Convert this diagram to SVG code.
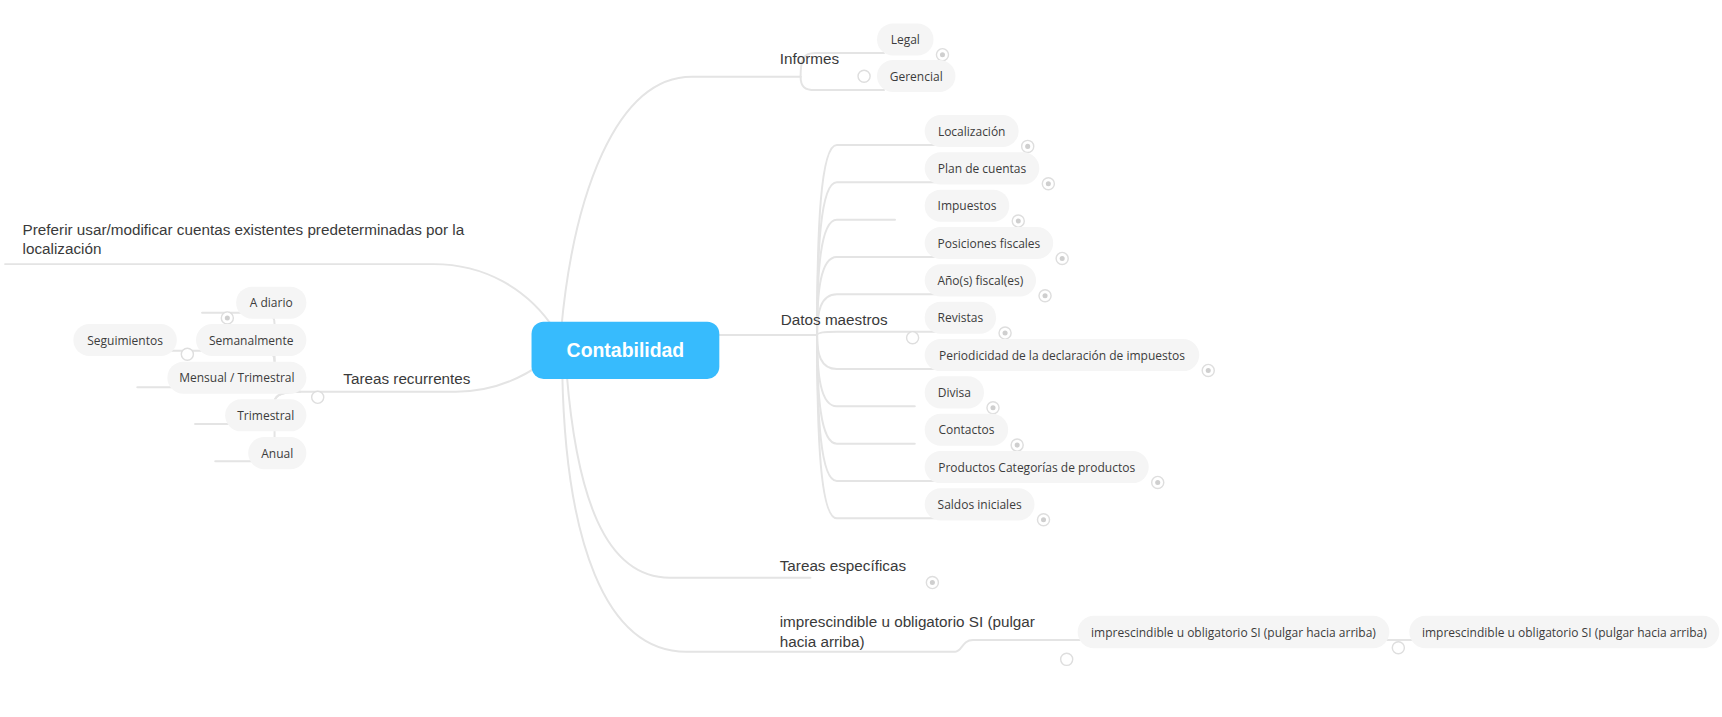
<svg xmlns="http://www.w3.org/2000/svg" width="1722" height="717" viewBox="0 0 1722 717">
<style>
.c{fill:none;stroke:#e4e4e4;stroke-width:1.8;stroke-linecap:round}
.p{fill:#f5f5f5}
.nt{font-family:"Open Sans","Noto Sans",sans-serif;font-size:10.93px;fill:#3c3c3c;text-anchor:middle}
.lb{font-family:"Liberation Sans",Arial,sans-serif;font-size:13.9px;fill:#3a3a3a}
.tg{fill:#fff;stroke:#dedede;stroke-width:1.3}
.td{fill:#cfcfcf}
</style>
<defs>
<g id="dot"><circle class="tg" r="5.5"/><circle class="td" r="2.3"/></g>
</defs>
<rect width="1722" height="717" fill="#fff"/>
<g transform="scale(1.0982)">
<g id="connectors">
<path class="c" d="M511 300 C522 180 560 69.8 630 69.8 H729"/>
<path class="c" d="M729 69.8 C729 55 731 48.3 742 48.3 H805"/>
<path class="c" d="M729 69.8 C729 79 733 82 742 82 H805"/>
<path class="c" d="M600 305 H744"/>
<path class="c" d="M744 305 C744 209.9 747 132 762 132 H852"/>
<path class="c" d="M744 305 C744 228.6 747 166 762 166 H852"/>
<path class="c" d="M744 305 C744 247.3 747 200 762 200 H815"/>
<path class="c" d="M744 305 C744 266 747 234 762 234 H852"/>
<path class="c" d="M744 305 C744 284.6 747 268 762 268 H852"/>
<path class="c" d="M744 305 C744 303.4 747 302 762 302 H852"/>
<path class="c" d="M744 305 C744 322 747 336 762 336 H852"/>
<path class="c" d="M744 305 C744 340.8 747 370 762 370 H833"/>
<path class="c" d="M744 305 C744 359.5 747 404 762 404 H833"/>
<path class="c" d="M744 305 C744 378.2 747 438 762 438 H852"/>
<path class="c" d="M744 305 C744 396.9 747 472 762 472 H852"/>
<path class="c" d="M516 340 C525 450 550 526 610 526 H738"/>
<path class="c" d="M512 340 C515 490 550 593.4 625 593.4 H870 C876 593.4 876 582.8 886 582.8 H990"/>
<path class="c" d="M1260 582.8 H1290"/>
<path class="c" d="M505 300 C480 262 440 240.5 395 240.5 H4.6"/>
<path class="c" d="M495 330 C470 348 445 356.7 415 356.7 H273"/>
<path class="c" d="M273 356.7 Q250 356.7 250 346 V295 Q250 284.7 240 284.7 H184"/>
<path class="c" d="M273 356.7 Q250 356.7 250 346 V329 Q250 319.3 240 319.3 H150"/>
<path class="c" d="M273 356.7 Q250 356.7 250 354.7 Q250 352.7 240 352.7 H125"/>
<path class="c" d="M273 356.7 Q250 356.7 250 366 V376 Q250 386.1 240 386.1 H177.6"/>
<path class="c" d="M273 356.7 Q250 356.7 250 366 V410 Q250 420 240 420 H196"/>
</g>

<g id="n-contabilidad">
<rect x="484" y="293" width="171" height="52" rx="11" fill="#37bbfd"/>
<text x="569.5" y="325.3" text-anchor="middle" font-family="Liberation Sans, Arial, sans-serif" font-size="17.7" font-weight="bold" fill="#fff">Contabilidad</text>
</g>

<g id="n-informes"><text class="lb" x="710" y="58.3">Informes</text><circle class="tg" cx="786.8" cy="69.4" r="5.5"/></g>
<g id="n-legal"><rect class="p" x="798.6" y="21.3" width="51.4" height="29.2" rx="14.6"/><text class="nt" x="824.3" y="40.1">Legal</text><use href="#dot" x="858.2" y="49.8"/></g>
<g id="n-gerencial"><rect class="p" x="798.6" y="54.6" width="71.4" height="29.2" rx="14.6"/><text class="nt" x="834.3" y="73.4">Gerencial</text></g>

<g id="n-datos"><text class="lb" x="711" y="296">Datos maestros</text><circle class="tg" cx="831" cy="307.5" r="5.5"/></g>
<g id="n-localizacion"><rect class="p" x="842" y="104.7" width="85.6" height="29.2" rx="14.6"/><text class="nt" x="884.8" y="123.5">Localización</text><use href="#dot" x="935.8" y="133.3"/></g>
<g id="n-plan"><rect class="p" x="842" y="138.7" width="104.4" height="29.2" rx="14.6"/><text class="nt" x="894.2" y="157.5">Plan de cuentas</text><use href="#dot" x="954.6" y="167.3"/></g>
<g id="n-impuestos"><rect class="p" x="842" y="172.7" width="77" height="29.2" rx="14.6"/><text class="nt" x="880.5" y="191.5">Impuestos</text><use href="#dot" x="927.2" y="201.3"/></g>
<g id="n-posiciones"><rect class="p" x="842" y="206.7" width="117" height="29.2" rx="14.6"/><text class="nt" x="900.5" y="225.5">Posiciones fiscales</text><use href="#dot" x="967.2" y="235.3"/></g>
<g id="n-anos"><rect class="p" x="842" y="240.7" width="101.4" height="29.2" rx="14.6"/><text class="nt" x="892.7" y="259.5">Año(s) fiscal(es)</text><use href="#dot" x="951.6" y="269.3"/></g>
<g id="n-revistas"><rect class="p" x="842" y="274.7" width="65" height="29.2" rx="14.6"/><text class="nt" x="874.5" y="293.5">Revistas</text><use href="#dot" x="915.2" y="303.3"/></g>
<g id="n-periodicidad"><rect class="p" x="842" y="308.7" width="250" height="29.2" rx="14.6"/><text class="nt" x="967" y="327.5">Periodicidad de la declaración de impuestos</text><use href="#dot" x="1100.2" y="337.3"/></g>
<g id="n-divisa"><rect class="p" x="842" y="342.7" width="54" height="29.2" rx="14.6"/><text class="nt" x="869" y="361.5">Divisa</text><use href="#dot" x="904.2" y="371.3"/></g>
<g id="n-contactos"><rect class="p" x="842" y="376.7" width="76" height="29.2" rx="14.6"/><text class="nt" x="880" y="395.5">Contactos</text><use href="#dot" x="926.2" y="405.3"/></g>
<g id="n-productos"><rect class="p" x="842" y="410.7" width="204" height="29.2" rx="14.6"/><text class="nt" x="944" y="429.5">Productos Categorías de productos</text><use href="#dot" x="1054.2" y="439.3"/></g>
<g id="n-saldos"><rect class="p" x="842" y="444.7" width="100" height="29.2" rx="14.6"/><text class="nt" x="892" y="463.5">Saldos iniciales</text><use href="#dot" x="950.2" y="473.3"/></g>

<g id="n-tareas-especificas"><text class="lb" x="710" y="519.5">Tareas específicas</text><use href="#dot" x="849" y="530.5"/></g>

<g id="n-imprescindible"><text class="lb" x="710" y="570.6">imprescindible u obligatorio SI (pulgar</text><text class="lb" x="710" y="588.9">hacia arriba)</text><circle class="tg" cx="971.3" cy="600.4" r="5.5"/></g>
<g id="n-imprescindible-2"><rect class="p" x="981.3" y="560.6" width="283.8" height="29.6" rx="14.8"/><text class="nt" x="1123.2" y="579.6">imprescindible u obligatorio SI (pulgar hacia arriba)</text><circle class="tg" cx="1273.3" cy="589.8" r="5.5"/></g>
<g id="n-imprescindible-3"><rect class="p" x="1283.3" y="560.6" width="282.3" height="29.6" rx="14.8"/><text class="nt" x="1424.5" y="579.6">imprescindible u obligatorio SI (pulgar hacia arriba)</text></g>

<g id="n-preferir"><text class="lb" x="20.6" y="214">Preferir usar/modificar cuentas existentes predeterminadas por la</text><text class="lb" x="20.6" y="231.6">localización</text></g>

<g id="n-tareas-recurrentes"><text class="lb" x="312.6" y="350">Tareas recurrentes</text></g>
<g id="n-adiario"><rect class="p" x="215" y="261" width="64" height="29.2" rx="14.6"/><text class="nt" x="247" y="279.8">A diario</text><use href="#dot" x="207" y="289.5"/></g>
<g id="n-seguimientos"><rect class="p" x="66.8" y="295" width="94.2" height="29.2" rx="14.6"/><text class="nt" x="113.9" y="313.8">Seguimientos</text></g>
<g id="n-semanalmente"><rect class="p" x="178.5" y="295" width="100.5" height="29.2" rx="14.6"/><text class="nt" x="228.75" y="313.8">Semanalmente</text><circle class="tg" cx="170.6" cy="322.6" r="5.5"/></g>
<g id="n-mensual"><rect class="p" x="152.4" y="329.3" width="126.6" height="29.2" rx="14.6"/><text class="nt" x="215.7" y="348.1">Mensual / Trimestral</text></g>
<g id="n-trimestral"><rect class="p" x="205" y="363.6" width="74" height="29.2" rx="14.6"/><text class="nt" x="242" y="382.4">Trimestral</text></g>
<g id="n-anual"><rect class="p" x="226" y="398" width="53" height="29.2" rx="14.6"/><text class="nt" x="252.5" y="416.8">Anual</text></g>
<circle class="tg" cx="289.3" cy="361.8" r="5.5"/>
</g>
</svg>
